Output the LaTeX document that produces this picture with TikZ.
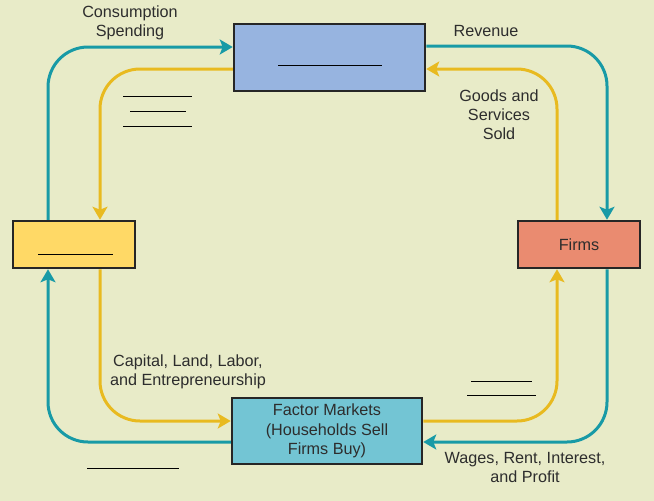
\documentclass[tikz,border=0pt]{standalone}
\usepackage{fontspec}
\setmainfont{Liberation Sans}
\usepackage{xcolor}
\usetikzlibrary{positioning,arrows.meta,calc}
\definecolor{bgcol}{RGB}{232,235,200}
\definecolor{flowteal}{RGB}{24,154,166}
\definecolor{flowgold}{RGB}{232,186,32}
\definecolor{gmblue}{RGB}{151,180,224}
\definecolor{hhyellow}{RGB}{255,217,102}
\definecolor{firmred}{RGB}{234,139,112}
\definecolor{fmcyan}{RGB}{115,197,212}
\definecolor{txt}{RGB}{45,45,45}
\begin{document}
\begin{tikzpicture}[x=1pt, y=-1pt,
    box/.style={draw=black!85, line width=2.5pt, align=center, inner sep=0pt,
                font=\fontsize{16.2}{19.5}\selectfont, text=txt},
    lbl/.style={align=center, font=\fontsize{16.2}{19}\selectfont, text=txt},
    arr/.style={-{Stealth[length=13pt, width=15pt, inset=3pt]}, line width=3pt,
                rounded corners=40pt},
    blank/.style={line width=1pt, black}]
  \fill[bgcol] (0,0) rectangle (654,501);
  \useasboundingbox (0,0) rectangle (654,501);
  \node[box, fill=gmblue, minimum width=191pt, minimum height=67pt] (gm) at (329.5,57.5) {};
  \node[box, fill=hhyellow, minimum width=122pt, minimum height=47pt] (hh) at (74,244.5) {};
  \node[box, fill=firmred, minimum width=122pt, minimum height=47pt] (firms) at (579,244.5) {Firms};
  \node[box, fill=fmcyan, minimum width=190pt, minimum height=66pt] (fm) at (327,431)
    {Factor Markets\\(Households Sell\\Firms Buy)};
  \draw[arr, flowteal] ([xshift=-26pt]hh.north) |- ([yshift=10.5pt]gm.west);
  \draw[arr, flowgold] ([yshift=-11.5pt]gm.west) -| ([xshift=26pt]hh.north);
  \draw[arr, flowteal] ([yshift=11.5pt]gm.east) -| ([xshift=28pt]firms.north);
  \draw[arr, flowgold] ([xshift=-22pt]firms.north) |- ([yshift=-11.5pt]gm.east);
  \draw[arr, flowgold] ([yshift=10pt]fm.east) -| ([xshift=-22pt]firms.south);
  \draw[arr, flowteal] ([xshift=28pt]firms.south) |- ([yshift=-11pt]fm.east);
  \draw[arr, flowgold] ([xshift=26pt]hh.south) |- ([yshift=10pt]fm.west);
  \draw[arr, flowteal] ([yshift=-11pt]fm.west) -| ([xshift=-26pt]hh.south);
  \node[lbl] (cons) at (130,23) {Consumption\\Spending};
  \node[lbl] (rev) at (486,31) {Revenue};
  \node[lbl] (goods) at (499,115) {Goods and\\Services\\Sold};
  \node[lbl] (inputs) at (188,371.5) {Capital, Land, Labor,\\and Entrepreneurship};
  \node[lbl] (wages) at (525,467.5) {Wages, Rent, Interest,\\and Profit};
  \draw[blank] (278,65) -- (382,65);
  \draw[blank] (38,254) -- (113,254);
  \draw[blank] (123,96) -- (192,96);
  \draw[blank] (130,111) -- (186,111);
  \draw[blank] (123,126) -- (192,126);
  \draw[blank] (471,381) -- (532,381);
  \draw[blank] (467,395) -- (536,395);
  \draw[blank] (87,468) -- (179,468);
\end{tikzpicture}
\end{document}
